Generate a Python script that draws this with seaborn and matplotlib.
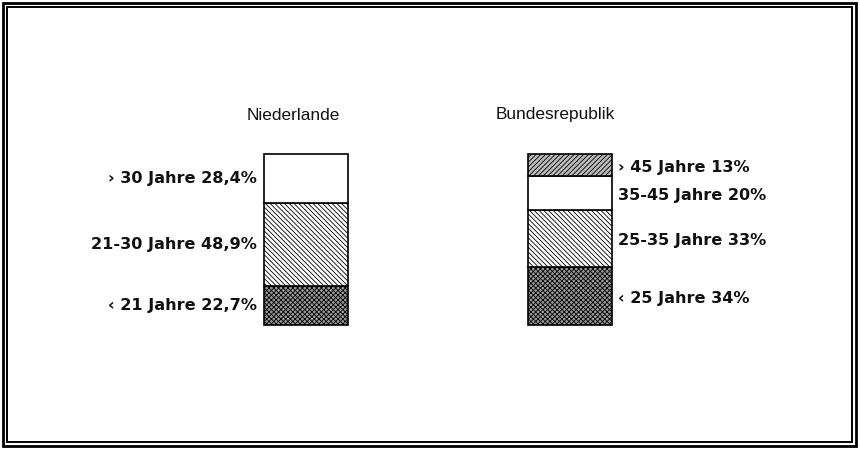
import pandas as pd
import seaborn as sns
import matplotlib.pyplot as plt
from matplotlib.patches import Rectangle

sns.set_theme(style="white")
plt.rcParams["font.family"] = ["DejaVu Sans"]
plt.rcParams["hatch.linewidth"] = 0.6

# Altersstruktur, von unten nach oben gestapelt
laender = ["Niederlande", "Bundesrepublik"]
nl_gruppen = ["\u2039 21 Jahre 22,7%", "21-30 Jahre 48,9%", "\u203a 30 Jahre 28,4%"]
nl_anteile = [22.7, 48.9, 28.4]
brd_gruppen = ["\u2039 25 Jahre 34%", "25-35 Jahre 33%", "35-45 Jahre 20%", "\u203a 45 Jahre 13%"]
brd_anteile = [34, 33, 20, 13]

# Muster je Segment
nl_muster = [("#999999", "xxxxxxx"), ("white", "\\\\\\\\\\\\\\"), ("white", "")]
brd_muster = [("#999999", "xxxxxxx"), ("white", "\\\\\\\\\\\\\\"), ("white", ""), ("#bbbbbb", "///////")]

rows = []
for land, gruppen, anteile, muster in [
    ("Niederlande", nl_gruppen, nl_anteile, nl_muster),
    ("Bundesrepublik", brd_gruppen, brd_anteile, brd_muster),
]:
    unten = 0
    for g, a, (fc, h) in zip(gruppen, anteile, muster):
        rows.append({"land": land, "gruppe": g, "anteil": a, "unten": unten, "fc": fc, "hatch": h})
        unten += a
df = pd.DataFrame(rows)

fig = plt.figure(figsize=(8.6, 4.49), dpi=100)
ax = fig.add_axes([0, 0, 1, 1])

for _, r in df.iterrows():
    sns.barplot(
        x=[r["land"]], y=[r["anteil"]], order=laender, ax=ax,
        bottom=r["unten"], width=0.318, color=r["fc"], saturation=1,
        hatch=r["hatch"], edgecolor="black", linewidth=1.2,
    )

# Pixelraster: x 0 -> 306 px, 1 -> 570 px; y 0 -> 325 px von oben, 100 -> 154 px
ax.set_xlim(-306 / 264, (860 - 306) / 264)
ax.set_ylim(-124 / 1.71, 325 / 1.71)
ax.axis("off")

lab = dict(fontsize=11.6, fontweight="bold", va="center", color="#111111")
for _, r in df.iterrows():
    ymid = r["unten"] + r["anteil"] / 2
    if r["land"] == "Niederlande":
        ax.text(-0.186, ymid, r["gruppe"], ha="right", **lab)
    else:
        ax.text(1.182, ymid - 1.3, r["gruppe"], ha="left", **lab)

tit = dict(ha="center", va="center", fontsize=12.4, color="#111111",
           family=["Liberation Sans", "DejaVu Sans"])
ax.text((293 - 306) / 264, (325 - 115) / 1.71, "Niederlande", **tit)
ax.text((555 - 306) / 264, (325 - 115) / 1.71, "Bundesrepublik", **tit)

# doppelter Rahmen
W, H = 860, 449
for x0, y0, x1, y1, lw in [(3, 3, 856, 446, 2.0), (7, 7, 852, 442, 1.4)]:
    fig.patches.append(Rectangle((x0 / W, 1 - y1 / H), (x1 - x0) / W, (y1 - y0) / H,
                                 transform=fig.transFigure, fill=False,
                                 edgecolor="black", linewidth=lw))

fig.savefig("out.png", dpi=100)
